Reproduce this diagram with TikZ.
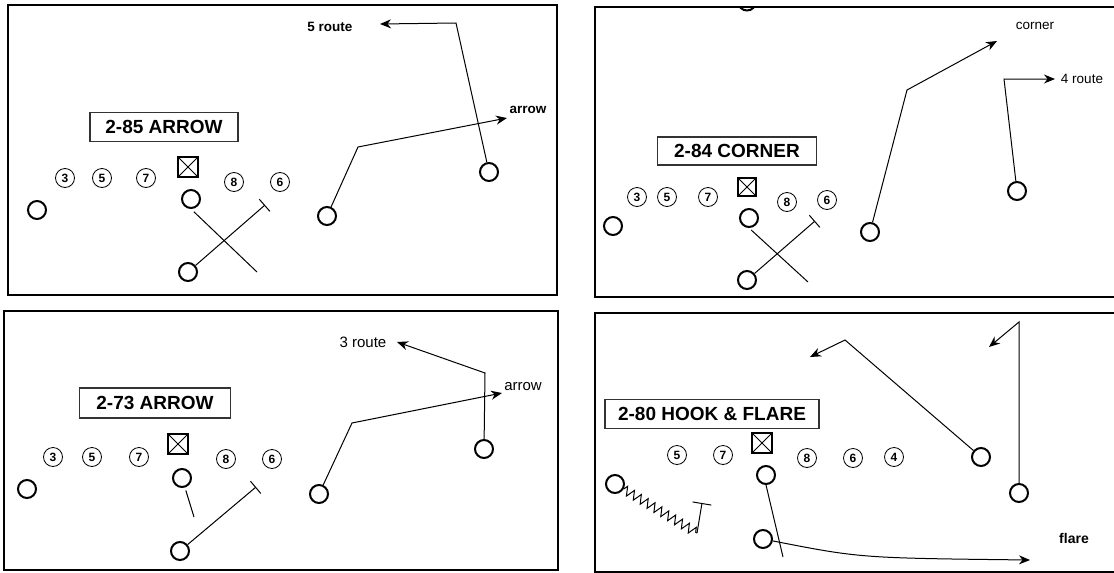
\documentclass[tikz,border=0pt]{standalone}
\usepackage{fontspec}
\setmainfont{Liberation Sans}
\usetikzlibrary{arrows.meta, decorations.pathmorphing}

\begin{document}
\begin{tikzpicture}[x=1pt, y=-1pt,
  panel/.style={draw, line width=1.8pt},
  playbox/.style={rectangle, draw=black!80, line width=1.1pt,
    minimum height=29pt, inner sep=0pt,
    font=\fontsize{19}{22}\selectfont\bfseries},
  num/.style={circle, draw, line width=0.8pt, minimum size=19pt,
    inner sep=0pt, font=\fontsize{12}{12}\selectfont\bfseries},
  man/.style={circle, draw, line width=2pt, minimum size=18pt,
    inner sep=0pt},
  snap/.style={rectangle, draw, line width=1.7pt, minimum size=20pt,
    inner sep=0pt,
    path picture={\draw[line width=0.8pt]
      (path picture bounding box.north west) -- (path picture bounding box.south east)
      (path picture bounding box.north east) -- (path picture bounding box.south west);}},
  route/.style={line width=1pt},
  arr/.style={route, -{Stealth[length=11pt, width=9pt]}},
  block/.style={route, -{Bar[width=16pt, line width=1pt]}},
  lbl/.style={font=\fontsize{13.5}{16}\selectfont},
]
\useasboundingbox (0,0) rectangle (1114,573);

% the four boards
\draw[panel] (8,5) rectangle (557,295);
\draw[panel] (595,7) rectangle (1118,297);
\draw[panel] (4,311) rectangle (558,570);
\draw[panel] (595,313) rectangle (1118,572);

% ---- 2-85 arrow ----
\node[playbox, minimum width=148pt] (aName) at (164,127) {2-85 ARROW};
\node[num] (a3) at (65,178) {3};
\node[num] (a5) at (102,178) {5};
\node[num] (a7) at (146,178) {7};
\node[num] (a8) at (234,182) {8};
\node[num] (a6) at (280,182) {6};
\node[snap] (aBall) at (188,167) {};
\node[man] (aL)  at (37,210) {};
\node[man] (aQ)  at (191,199) {};
\node[man] (aB)  at (188,272) {};
\node[man] (aR)  at (327,216) {};
\node[man] (aFR) at (489,172) {};
\coordinate (aX1) at (257,272);
\coordinate (aT1) at (265,205);
\coordinate (aR1) at (358,147);
\coordinate (aR2) at (507,118);
\coordinate (aF1) at (456,23);
\coordinate (aF2) at (380,24);
\draw[route, shorten <=4pt] (aQ.south) -- (aX1);
\draw[block] (aB) -- (aT1);
\draw[arr] (aR) -- (aR1) -- (aR2);
\draw[arr] (aFR) -- (aF1) -- (aF2);
\node[lbl, font=\fontsize{13.5}{16}\selectfont\bfseries] (aArrow) at (528,110) {arrow};
\node[lbl, font=\fontsize{13.5}{16}\selectfont\bfseries] (aFive) at (330,27) {5 route};

% ---- 2-84 corner ----
\node[playbox, minimum width=159pt, minimum height=28pt] (bName) at (737,151) {2-84 CORNER};
\node[num] (b3) at (637,197) {3};
\node[num] (b5) at (667,197) {5};
\node[num] (b7) at (708,197) {7};
\node[num] (b8) at (787,202) {8};
\node[num] (b6) at (827,200) {6};
\node[snap, minimum size=18pt] (bBall) at (747,187) {};
\node[man] (bL)  at (613,226) {};
\node[man] (bQ)  at (749,218) {};
\node[man] (bB)  at (747,280) {};
\node[man] (bR)  at (870,232) {};
\node[man] (bFR) at (1017,191) {};
\begin{scope}
  \clip (595,7) rectangle (1114,297);
  \node[man] (bTop) at (747,1.5) {};
\end{scope}
\coordinate (bX1) at (808,282);
\coordinate (bT1) at (815,221);
\coordinate (bR1) at (907,90);
\coordinate (bR2) at (997,41);
\coordinate (bF1) at (1004,79);
\coordinate (bF2) at (1055,79);
\draw[route, shorten <=3pt] (bQ.south) -- (bX1);
\draw[block] (bB) -- (bT1);
\draw[arr] (bR) -- (bR1) -- (bR2);
\draw[arr] (bFR) -- (bF1) -- (bF2);
\node[lbl] (bCorner) at (1035,26) {corner};
\node[lbl] (bFour) at (1082,79) {4 route};

% ---- 2-73 arrow ----
\node[playbox, minimum width=151pt, minimum height=30pt] (cName) at (155,403) {2-73 ARROW};
\node[num] (c3) at (53,457) {3};
\node[num] (c5) at (92,457) {5};
\node[num] (c7) at (139,457) {7};
\node[num] (c8) at (226,459) {8};
\node[num] (c6) at (272,459) {6};
\node[snap] (cBall) at (178,444) {};
\node[man] (cL)  at (27,489) {};
\node[man] (cQ)  at (182,478) {};
\node[man] (cB)  at (180,551) {};
\node[man] (cR)  at (319,494) {};
\node[man] (cFR) at (484,449) {};
\coordinate (cX1) at (194,517);
\coordinate (cT1) at (256,487);
\coordinate (cR1) at (352,423);
\coordinate (cR2) at (502,393);
\coordinate (cF1) at (485,373);
\coordinate (cF2) at (397,342);
\draw[route, shorten <=3pt] (cQ) -- (cX1);
\draw[block] (cB) -- (cT1);
\draw[arr] (cR) -- (cR1) -- (cR2);
\draw[arr] (cFR) -- (cF1) -- (cF2);
\node[lbl, font=\fontsize{15}{18}\selectfont] (cArrow) at (523,387) {arrow};
\node[lbl, font=\fontsize{15}{18}\selectfont] (cThree) at (363,342) {3 route};

% ---- 2-80 hook & flare ----
\node[playbox, minimum width=214pt] (dName) at (712,414) {2-80 HOOK \& FLARE};
\node[num] (d5) at (677,455) {5};
\node[num] (d7) at (723,455) {7};
\node[num] (d8) at (807,458) {8};
\node[num] (d6) at (853,458) {6};
\node[num] (d4) at (894,457) {4};
\node[snap] (dBall) at (762,443) {};
\node[man] (dL)  at (615,484) {};
\node[man] (dQ)  at (766,475) {};
\node[man] (dB)  at (763,539) {};
\node[man] (dR)  at (981,457) {};
\node[man] (dFR) at (1019,493) {};
\coordinate (dZ1) at (697,533);
\coordinate (dZ2) at (702,503);
\coordinate (dX1) at (783,557);
\coordinate (dFl) at (1030,560);
\coordinate (dR1) at (845,340);
\coordinate (dR2) at (810,357);
\coordinate (dFR1) at (1019,322);
\coordinate (dFR2) at (989,347);
\draw[route, decorate, decoration={zigzag, segment length=8pt, amplitude=4.5pt}]
  (dL) -- (dZ1);
\draw[block, -{Bar[width=19pt, line width=1pt]}] (dZ1) -- (dZ2);
\draw[route] (dQ.south) -- (dX1);
\draw[arr] (dB) .. controls (860,558) .. (dFl);
\draw[arr] (dR) -- (dR1) -- (dR2);
\draw[arr] (dFR) -- (dFR1) -- (dFR2);
\node[lbl, font=\fontsize{14}{16}\selectfont\bfseries] (dFlare) at (1074,538) {flare};
\end{tikzpicture}
\end{document}
